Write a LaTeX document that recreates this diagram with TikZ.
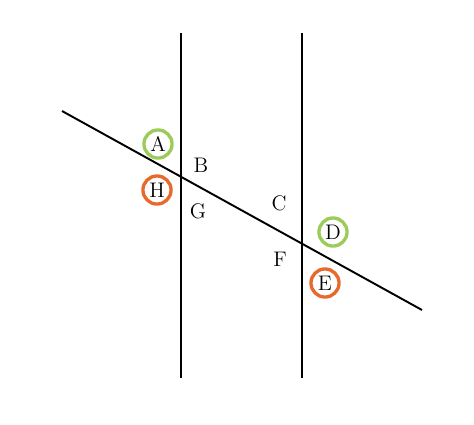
\documentclass[tikz,border=0pt]{standalone}
\usepackage{tikz}
\usetikzlibrary{positioning}
\definecolor{ringgreen}{HTML}{9CCB5A}
\definecolor{ringorange}{HTML}{E66A2C}

\begin{document}
\begin{tikzpicture}[
    x=0.02cm, y=-0.02cm,
    font=\fontsize{12}{14}\selectfont,
    greennode/.style={circle, draw=ringgreen, line width=1.9pt, inner sep=0pt, minimum size=16pt},
    orangenode/.style={circle, draw=ringorange, line width=1.9pt, inner sep=0pt, minimum size=16pt},
    anglenode/.style={inner sep=0pt},
    ]
    \useasboundingbox (0,0) rectangle (474,424);

    \coordinate (p1top) at (181,33);
    \coordinate (p1bot) at (181,378);
    \coordinate (p2top) at (302,33);
    \coordinate (p2bot) at (302,378);
    \coordinate (tleft) at (62,111);
    \coordinate (tright) at (422,310);

    \node[greennode] (A) at (158,144) {A};
    \node[orangenode] (H) at (157,190) {H};
    \node[anglenode] (B) at (201,165) {B};
    \node[anglenode] (G) at (198,211) {G};
    \node[anglenode] (C) at (279,203) {C};
    \node[anglenode] (F) at (280,259) {F};
    \node[greennode] (D) at (333,232) {D};
    \node[orangenode] (E) at (325,283) {E};

    \draw[line width=1.1pt] (p1top)--(p1bot);
    \draw[line width=1.1pt] (p2top)--(p2bot);
    \draw[line width=1.1pt] (tleft)--(tright);
\end{tikzpicture}
\end{document}
